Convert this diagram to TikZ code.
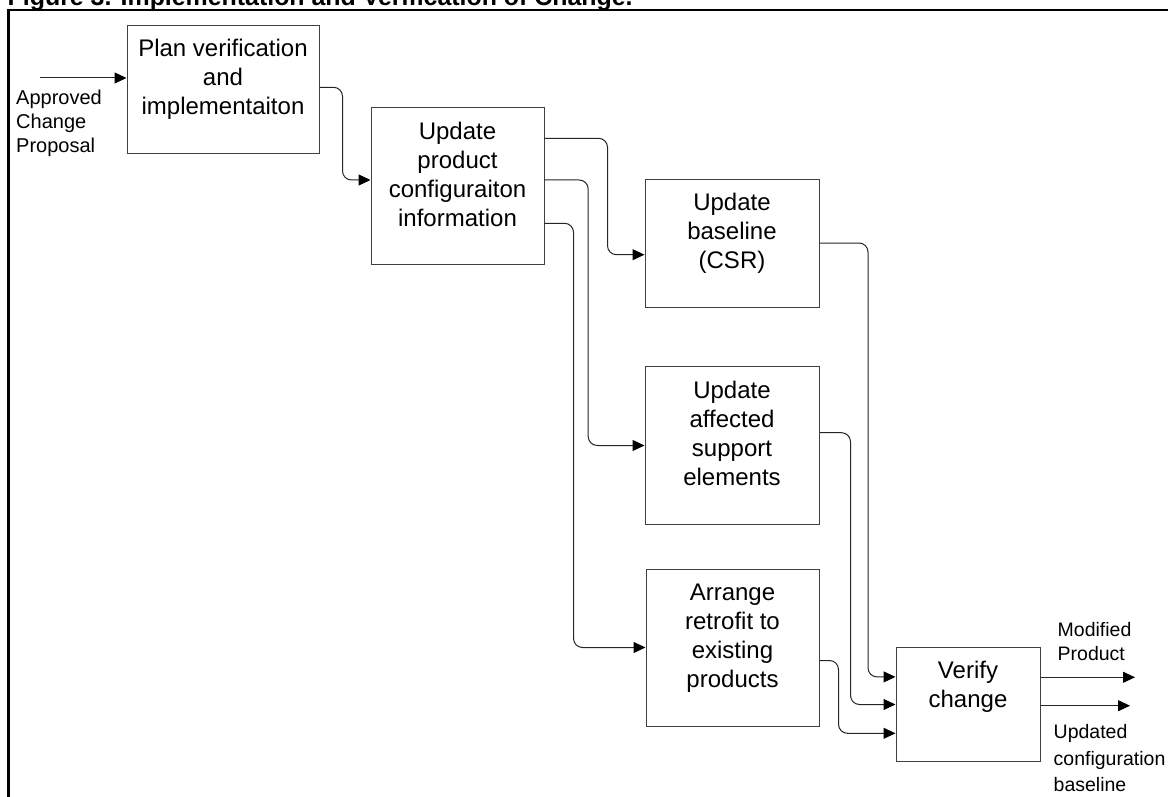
\documentclass[tikz,border=0pt]{standalone}
\usepackage{fontspec}
\setmainfont{Liberation Sans}
\usetikzlibrary{arrows.meta}
\begin{document}
\begin{tikzpicture}[x=1pt,y=-1pt,
  box/.style={draw=black!75, line width=1pt, fill=white, inner sep=0pt},
  boxtext/.style={anchor=north, inner sep=0pt, align=center, font=\fontsize{24}{29}\selectfont},
  lbl/.style={anchor=north west, inner sep=0pt, align=left},
  conn/.style={draw=black!85, line width=1pt, rounded corners=9pt, -{Triangle[length=12pt,width=11pt,color=black]}},
  frame/.style={line width=2.4pt, draw=black}]
\useasboundingbox (0,0) rectangle (1168,797);

% title and outer frame
\node[anchor=base west, inner sep=0pt, font=\bfseries\fontsize{24.9}{30}\selectfont] (title) at (7.5,6)
  {Figure 3. Implementation and Verification of Change.};
\draw[frame] (8.3,830) -- (8.3,10.3) -- (1200,10.3);

% process boxes
\node[box, minimum width=192pt, minimum height=128.5pt] (plan)   at (223,89.3)  {};
\node[box, minimum width=173pt, minimum height=157pt]   (upd)    at (457.5,186.4) {};
\node[box, minimum width=174pt, minimum height=128pt]   (base)   at (732,243.6) {};
\node[box, minimum width=174pt, minimum height=157.6pt] (supp)   at (732,445.5) {};
\node[box, minimum width=173pt, minimum height=157pt]   (retro)  at (732.5,647.5) {};
\node[box, minimum width=144pt, minimum height=114.4pt] (verify) at (968,704.5) {};

% box texts
\node[boxtext] (plantxt)   at ([yshift=-11.3pt]plan.north)   {\strut Plan verification\\and\\implementaiton};
\node[boxtext] (updtxt)    at ([yshift=-11.3pt]upd.north)    {\strut Update\\product\\configuraiton\\information};
\node[boxtext] (basetxt)   at ([yshift=-11.3pt]base.north)   {\strut Update\\baseline\\(CSR)};
\node[boxtext] (supptxt)   at ([yshift=-11.3pt]supp.north)   {\strut Update\\affected\\support\\elements};
\node[boxtext] (retrotxt)  at ([yshift=-11.3pt]retro.north)  {\strut Arrange\\retrofit to\\existing\\products};
\node[boxtext] (verifytxt) at ([yshift=-11.3pt]verify.north) {\strut Verify\\change};

% free labels
\node[lbl, font=\fontsize{20}{24}\selectfont] (approved) at (16,87.7) {\strut Approved\\Change\\Proposal};
\node[lbl, font=\fontsize{19.5}{24}\selectfont] (modified) at (1057.5,619.7) {\strut Modified\\Product};
\node[lbl, font=\fontsize{19.5}{26.5}\selectfont] (updated) at (1053.5,720) {\strut Updated\\configuration\\baseline};

% connector ends
\coordinate (src)  at (40,78);
\coordinate (out1) at (1135,677.3);
\coordinate (out2) at (1130,705.7);

% connectors
\draw[conn] (src) -- ([yshift=11.3pt]plan.west);
\draw[conn] (plan.east) ++(0,-2) -- ++(23,0) |- ([yshift=6.4pt]upd.west);
\draw[conn] (upd.east) ++(0,-48.1) -- ++(63,0) |- ([yshift=-11.1pt]base.west);
\draw[conn] (upd.east) ++(0,-6.4) -- ++(43.7,0) |- (supp.west);
\draw[conn] (upd.east) ++(0,36.9) -- ++(29,0) |- (retro.west);
\draw[conn] (base.east) ++(0,-0.6) -- ++(48.5,0) |- ([yshift=27.6pt]verify.west);
\draw[conn] (supp.east) ++(0,-12.8) -- ++(31,0) |- (verify.west);
\draw[conn] (retro.east) ++(0,13) -- ++(19,0) |- ([yshift=-28.8pt]verify.west);
\draw[conn] (verify.east |- out1) -- (out1);
\draw[conn] (verify.east |- out2) -- (out2);
\end{tikzpicture}
\end{document}
